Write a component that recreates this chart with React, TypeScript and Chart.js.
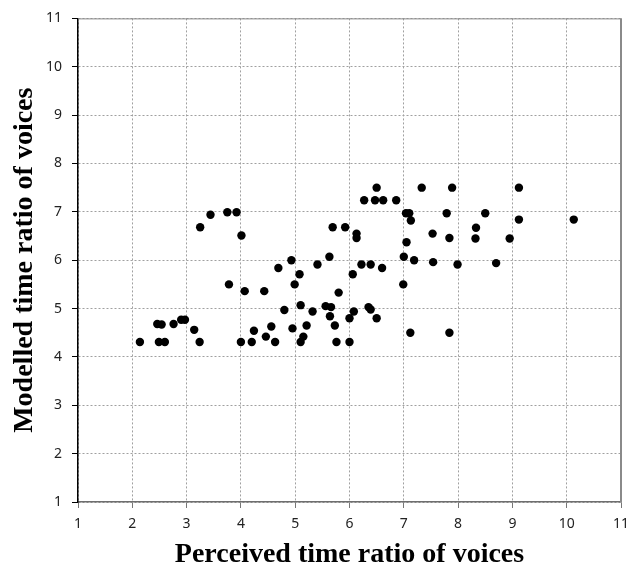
import React, { useEffect, useRef } from "react";
import { Chart, registerables } from "chart.js";

Chart.register(...registerables);

const perceived = [
  2.14, 2.46, 2.54, 2.49, 2.6, 2.76, 2.9, 2.97, 3.14, 3.24,
  3.25, 3.44, 3.75, 3.92, 4.01, 3.78, 4.07, 4.0, 4.2, 4.24,
  4.43, 4.46, 4.56, 4.63, 4.69, 4.8, 4.93, 4.95, 4.99, 5.08,
  5.1, 5.1, 5.15, 5.21, 5.32, 5.41, 5.56, 5.66, 5.63, 5.64,
  5.73, 5.76, 5.8, 5.69, 5.92, 6.13, 6.13, 6.0, 6.0, 6.06,
  6.08, 6.22, 6.39, 6.35, 6.39, 6.5, 6.6, 6.5, 6.27, 6.47,
  6.62, 6.86, 7.33, 7.89, 9.12, 7.04, 7.1, 7.13, 7.79, 8.5,
  9.12, 10.13, 8.33, 8.32, 8.95, 7.53, 7.84, 7.05, 7.0, 7.19,
  7.54, 7.99, 8.7, 6.99, 7.12, 7.84,
];

const modelled = [
  4.31, 4.68, 4.67, 4.31, 4.31, 4.68, 4.77, 4.77, 4.56, 4.31,
  6.68, 6.94, 6.99, 6.99, 6.51, 5.5, 5.36, 4.31, 4.31, 4.54,
  5.36, 4.42, 4.63, 4.31, 5.84, 4.97, 6.0, 4.59, 5.5, 5.71,
  5.07, 4.31, 4.42, 4.65, 4.94, 5.91, 5.05, 5.03, 6.07, 4.84,
  4.65, 4.31, 5.33, 6.68, 6.68, 6.55, 6.46, 4.31, 4.8, 5.71,
  4.94, 5.91, 5.91, 5.03, 4.98, 4.8, 5.84, 7.5, 7.24, 7.24,
  7.24, 7.24, 7.5, 7.5, 7.5, 6.97, 6.97, 6.82, 6.97, 6.97,
  6.84, 6.84, 6.67, 6.45, 6.45, 6.55, 6.46, 6.37, 6.07, 6.0,
  5.96, 5.91, 5.94, 5.5, 4.5, 4.5,
];

const xTitle = "Perceived time ratio of voices";
const yTitle = "Modelled time ratio of voices";
const axisMin = 1;
const axisMax = 11;

const frame = {
  id: "frame",
  beforeDatasetsDraw(chart: any) {
    const { ctx, chartArea } = chart;
    ctx.save();
    ctx.strokeStyle = "#8a8a8a";
    ctx.lineWidth = 1;
    ctx.beginPath();
    ctx.moveTo(chartArea.left, chartArea.top + 0.5);
    ctx.lineTo(chartArea.right, chartArea.top + 0.5);
    ctx.stroke();
    ctx.lineWidth = 2;
    ctx.beginPath();
    ctx.moveTo(chartArea.right, chartArea.top);
    ctx.lineTo(chartArea.right, chartArea.bottom);
    ctx.stroke();
    ctx.restore();
  },
};

export default function App() {
  const ref = useRef<HTMLCanvasElement>(null);

  useEffect(() => {
    if (!ref.current) return;
    const points = perceived.map((x, i) => ({ x, y: modelled[i] }));
    const tickFont = { family: "'Noto Sans', 'Liberation Sans', sans-serif", size: 14 };
    const titleFont = { family: "'Liberation Serif', 'Times New Roman', serif", size: 28, weight: "bold" as const };
    const chart = new Chart(ref.current, {
      type: "scatter",
      data: {
        datasets: [
          {
            data: points,
            backgroundColor: "#000",
            borderColor: "#000",
            borderWidth: 0,
            pointRadius: 4.2,
            pointHoverRadius: 4.2,
          },
        ],
      },
      options: {
        animation: false,
        responsive: false,
        events: [],
        layout: { padding: { left: 6, right: 20, top: 12, bottom: 0 } },
        plugins: { legend: { display: false }, tooltip: { enabled: false } },
        scales: {
          x: {
            type: "linear",
            min: axisMin,
            max: axisMax,
            ticks: { stepSize: 1, font: tickFont, color: "#222", padding: 8, maxRotation: 0 },
            grid: {
              color: "#a0a0a0",
              lineWidth: 1,
              tickLength: 6,
              tickColor: "#777",
              tickBorderDash: [],
            },
            border: { display: true, color: "#6e6e6e", width: 1.5, dash: [2, 2] },
            title: { display: true, text: xTitle, font: titleFont, color: "#000", padding: { top: 0, bottom: 0 } },
            afterFit: (s: any) => {
              s.height = 70;
            },
          },
          y: {
            type: "linear",
            min: axisMin,
            max: axisMax,
            ticks: { stepSize: 1, font: tickFont, color: "#222", padding: 10 },
            grid: {
              color: "#a0a0a0",
              lineWidth: 1,
              tickLength: 6,
              tickColor: "#000",
              tickBorderDash: [],
            },
            border: { display: true, color: "#000", width: 1.5, dash: [2, 2] },
            title: { display: true, text: yTitle, font: titleFont, color: "#000", padding: { top: 2, bottom: 0 } },
            afterFit: (s: any) => {
              s.width = 72;
            },
          },
        },
      },
      plugins: [frame],
    });
    return () => chart.destroy();
  }, []);

  return (
    <div style={{ position: "absolute", left: 0, top: 0, width: 641, height: 572, background: "#fff" }}>
      <canvas ref={ref} width={641} height={572} style={{ display: "block" }} />
    </div>
  );
}
